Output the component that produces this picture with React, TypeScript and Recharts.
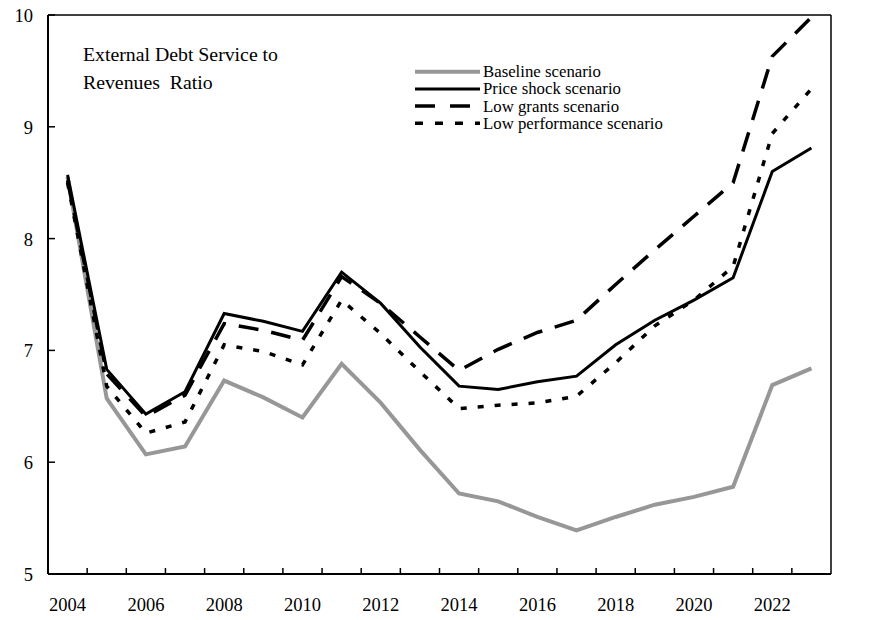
import React from 'react';
import {
  LineChart,
  Line,
  XAxis,
  YAxis,
  Legend,
  ReferenceLine,
} from 'recharts';

const years = [
  2004, 2005, 2006, 2007, 2008, 2009, 2010, 2011, 2012, 2013,
  2014, 2015, 2016, 2017, 2018, 2019, 2020, 2021, 2022, 2023,
];
const baseline = [
  8.55, 6.57, 6.07, 6.14, 6.73, 6.58, 6.4, 6.88, 6.53, 6.11,
  5.72, 5.65, 5.51, 5.39, 5.51, 5.62, 5.69, 5.78, 6.69, 6.84,
];
const priceShock = [
  8.57, 6.83, 6.43, 6.63, 7.33, 7.26, 7.17, 7.7, 7.42, 7.03,
  6.68, 6.65, 6.72, 6.77, 7.05, 7.27, 7.45, 7.65, 8.6, 8.81,
];
const lowGrants = [
  8.52, 6.79, 6.41, 6.6, 7.24, 7.18, 7.09, 7.66, 7.42, 7.12,
  6.82, 7.01, 7.16, 7.27, 7.59, 7.9, 8.2, 8.5, 9.63, 9.98,
];
const lowPerformance = [
  8.5, 6.68, 6.26, 6.36, 7.05, 6.99, 6.87, 7.45, 7.15, 6.81,
  6.48, 6.51, 6.53, 6.59, 6.89, 7.22, 7.45, 7.75, 8.94, 9.34,
];
const yTicks = [5, 6, 7, 8, 9, 10];
const labelYears = [2004, 2006, 2008, 2010, 2012, 2014, 2016, 2018, 2020, 2022];

const data = years.map((year, i) => ({
  year,
  baseline: baseline[i],
  priceShock: priceShock[i],
  lowGrants: lowGrants[i],
  lowPerformance: lowPerformance[i],
}));

// tick marks sit between the years, labels sit on them
const xTicks = [
  ...labelYears,
  ...years.slice(0, -1).map((y) => y + 0.5),
].sort((a, b) => a - b);

const FONT = '"Liberation Serif", "Times New Roman", serif';

const series = [
  { key: 'baseline', name: 'Baseline scenario', color: '#979797', width: 4, dash: undefined, legendDash: undefined },
  { key: 'priceShock', name: 'Price shock scenario', color: '#000', width: 3, dash: undefined, legendDash: undefined },
  { key: 'lowGrants', name: 'Low grants scenario', color: '#000', width: 3.5, dash: '20 13', legendDash: '20 15' },
  { key: 'lowPerformance', name: 'Low performance scenario', color: '#000', width: 3.5, dash: '6 11', legendDash: '8 12' },
];

const XTick = (props: any) => {
  const { x, y, payload } = props;
  const v = payload.value;
  if (!Number.isInteger(v)) {
    return <line x1={x} x2={x} y1={y} y2={y - 6} stroke="#000" strokeWidth={1.5} />;
  }
  return (
    <text x={x} y={y + 37} textAnchor="middle" fontFamily={FONT} fontSize={18.5} fill="#000">
      {v}
    </text>
  );
};

const LeftTick = (props: any) => {
  const { x, y, payload } = props;
  return (
    <g>
      <line x1={x} x2={x + 7} y1={y} y2={y} stroke="#000" strokeWidth={1.5} />
      <text x={x - 15} y={y + 7} textAnchor="end" fontFamily={FONT} fontSize={18.5} fill="#000">
        {payload.value}
      </text>
    </g>
  );
};

const RightTick = (props: any) => {
  const { x, y, payload } = props;
  return (
    <g>
      <line x1={x - 5} x2={x + 6} y1={y} y2={y} stroke="#000" strokeWidth={1.2} />
      <text x={x + 16} y={y + 7} textAnchor="start" fontFamily={FONT} fontSize={18.5} fill="#000">
        {payload.value}
      </text>
    </g>
  );
};

const renderLegend = () => (
  <svg width={330} height={74}>
    {series.map((s, i) => {
      const cy = 9.7 + i * 17.2;
      return (
        <g key={s.key}>
          <line
            x1={0}
            x2={65}
            y1={cy}
            y2={cy}
            stroke={s.color}
            strokeWidth={s.width}
            strokeDasharray={s.legendDash}
          />
          <text x={68} y={cy + 5.5} fontFamily={FONT} fontSize={16.8} fill="#000">
            {s.name}
          </text>
        </g>
      );
    })}
  </svg>
);

export default function App() {
  return (
    <div style={{ position: 'relative', width: 874, height: 620, background: '#fff' }}>
      <style>{'body{margin:0;background:#fff;}'}</style>
      <LineChart
        width={874}
        height={620}
        data={data}
        margin={{ top: 15, right: 0, bottom: 0, left: 0 }}
      >
        <XAxis
          dataKey="year"
          type="number"
          domain={[2003.5, 2023.5]}
          ticks={xTicks}
          interval={0}
          height={46}
          tickSize={0}
          tickMargin={0}
          tick={<XTick />}
          axisLine={{ stroke: '#000', strokeWidth: 2 }}
        />
        <YAxis
          yAxisId="left"
          domain={[5, 10]}
          ticks={yTicks}
          interval={0}
          width={48}
          tickSize={0}
          tickMargin={0}
          tick={<LeftTick />}
          axisLine={{ stroke: '#000', strokeWidth: 2 }}
        />
        <YAxis
          yAxisId="right"
          orientation="right"
          domain={[5, 10]}
          ticks={yTicks}
          interval={0}
          width={43}
          tickSize={0}
          tickMargin={0}
          tick={<RightTick />}
          axisLine={{ stroke: '#000', strokeWidth: 1.5 }}
        />
        <ReferenceLine yAxisId="left" y={10} stroke="#000" strokeWidth={1.5} />
        {series.map((s) => (
          <Line
            key={s.key}
            yAxisId="left"
            dataKey={s.key}
            name={s.name}
            type="linear"
            stroke={s.color}
            strokeWidth={s.width}
            strokeDasharray={s.dash}
            dot={false}
            activeDot={false}
            isAnimationActive={false}
          />
        ))}
        <Legend
          layout="vertical"
          align="center"
          verticalAlign="middle"
          content={renderLegend}
          wrapperStyle={{ left: 415, top: 62, width: 330, height: 74 }}
        />
      </LineChart>
      <svg
        width={874}
        height={620}
        style={{ position: 'absolute', left: 0, top: 0, pointerEvents: 'none' }}
      >
        <text x={83} y={61} fontFamily={FONT} fontSize={19.8} fill="#000">
          External Debt Service to
        </text>
        <text x={83} y={89} fontFamily={FONT} fontSize={19.8} fill="#000" xmlSpace="preserve">
          Revenues  Ratio
        </text>
      </svg>
    </div>
  );
}
